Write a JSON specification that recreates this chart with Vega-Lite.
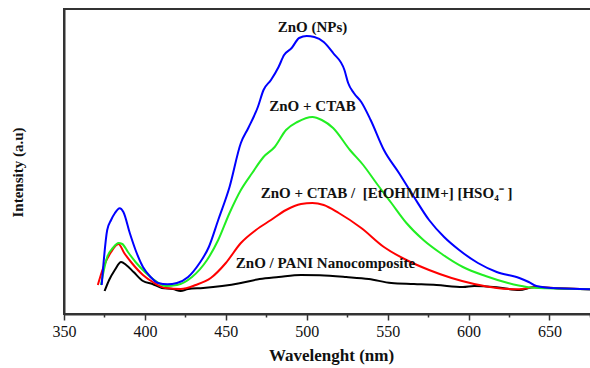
{
  "$schema": "https://vega.github.io/schema/vega-lite/v6.json",
  "width": 534,
  "height": 305,
  "autosize": {"type": "none"},
  "padding": {"left": 64, "top": 9, "right": 0, "bottom": 54},
  "background": "white",
  "config": {
    "view": {"stroke": "#333", "strokeWidth": 2},
    "font": "Liberation Serif"
  },
  "datasets": {
    "curves": [
      {"s": "PANI", "w": 375.1, "i": 23}, {"s": "PANI", "w": 377.9, "i": 34}, {"s": "PANI", "w": 381.4, "i": 44}, {"s": "PANI", "w": 385.3, "i": 52}, {"s": "PANI", "w": 388.4, "i": 49}, {"s": "PANI", "w": 393, "i": 42}, {"s": "PANI", "w": 398.8, "i": 33}, {"s": "PANI", "w": 404.7, "i": 30}, {"s": "PANI", "w": 410.5, "i": 26}, {"s": "PANI", "w": 417.4, "i": 25}, {"s": "PANI", "w": 422.1, "i": 23}, {"s": "PANI", "w": 426.7, "i": 25}, {"s": "PANI", "w": 436, "i": 26}, {"s": "PANI", "w": 447.7, "i": 28}, {"s": "PANI", "w": 459.3, "i": 31}, {"s": "PANI", "w": 470.9, "i": 35}, {"s": "PANI", "w": 482.6, "i": 37}, {"s": "PANI", "w": 496.5, "i": 39}, {"s": "PANI", "w": 508.1, "i": 38.7}, {"s": "PANI", "w": 524.4, "i": 37}, {"s": "PANI", "w": 538.4, "i": 35}, {"s": "PANI", "w": 552.3, "i": 31}, {"s": "PANI", "w": 566.3, "i": 30}, {"s": "PANI", "w": 580.2, "i": 29}, {"s": "PANI", "w": 596.5, "i": 27}, {"s": "PANI", "w": 603.5, "i": 28}, {"s": "PANI", "w": 617.4, "i": 26.7}, {"s": "PANI", "w": 631.4, "i": 24}, {"s": "PANI", "w": 640.7, "i": 27}, {"s": "PANI", "w": 654.7, "i": 25.7}, {"s": "PANI", "w": 680, "i": 24.7},

      {"s": "IL", "w": 370.9, "i": 29}, {"s": "IL", "w": 374.4, "i": 47}, {"s": "IL", "w": 379.1, "i": 62}, {"s": "IL", "w": 383.7, "i": 70}, {"s": "IL", "w": 387.2, "i": 61}, {"s": "IL", "w": 391.9, "i": 51}, {"s": "IL", "w": 398.8, "i": 39}, {"s": "IL", "w": 405.8, "i": 31}, {"s": "IL", "w": 412.8, "i": 26}, {"s": "IL", "w": 422.1, "i": 25}, {"s": "IL", "w": 431.4, "i": 29}, {"s": "IL", "w": 440.7, "i": 36}, {"s": "IL", "w": 450, "i": 51}, {"s": "IL", "w": 459.3, "i": 71}, {"s": "IL", "w": 468.6, "i": 84}, {"s": "IL", "w": 477.9, "i": 94}, {"s": "IL", "w": 487.2, "i": 104}, {"s": "IL", "w": 496.5, "i": 110}, {"s": "IL", "w": 503.5, "i": 111}, {"s": "IL", "w": 510.5, "i": 109}, {"s": "IL", "w": 519.8, "i": 101}, {"s": "IL", "w": 533.7, "i": 86}, {"s": "IL", "w": 547.7, "i": 67}, {"s": "IL", "w": 561.6, "i": 54}, {"s": "IL", "w": 575.6, "i": 44}, {"s": "IL", "w": 589.5, "i": 36}, {"s": "IL", "w": 603.5, "i": 30}, {"s": "IL", "w": 617.4, "i": 26}, {"s": "IL", "w": 631.4, "i": 24.7}, {"s": "IL", "w": 640.7, "i": 26.7}, {"s": "IL", "w": 654.7, "i": 25.7}, {"s": "IL", "w": 680, "i": 24.7},

      {"s": "CTAB", "w": 372.8, "i": 29}, {"s": "CTAB", "w": 376.7, "i": 57}, {"s": "CTAB", "w": 380.2, "i": 66}, {"s": "CTAB", "w": 383.7, "i": 71}, {"s": "CTAB", "w": 386, "i": 70}, {"s": "CTAB", "w": 389.5, "i": 62}, {"s": "CTAB", "w": 394.2, "i": 52}, {"s": "CTAB", "w": 400, "i": 42}, {"s": "CTAB", "w": 405.8, "i": 34}, {"s": "CTAB", "w": 412.8, "i": 28}, {"s": "CTAB", "w": 419.8, "i": 29}, {"s": "CTAB", "w": 429.1, "i": 37}, {"s": "CTAB", "w": 438.4, "i": 54}, {"s": "CTAB", "w": 445.3, "i": 74}, {"s": "CTAB", "w": 452.3, "i": 101}, {"s": "CTAB", "w": 459.3, "i": 124}, {"s": "CTAB", "w": 466.3, "i": 141}, {"s": "CTAB", "w": 473.3, "i": 157}, {"s": "CTAB", "w": 480.2, "i": 167}, {"s": "CTAB", "w": 487.2, "i": 184}, {"s": "CTAB", "w": 494.2, "i": 192}, {"s": "CTAB", "w": 503.5, "i": 197}, {"s": "CTAB", "w": 509.3, "i": 194}, {"s": "CTAB", "w": 516.3, "i": 186}, {"s": "CTAB", "w": 526.7, "i": 164}, {"s": "CTAB", "w": 534.9, "i": 149}, {"s": "CTAB", "w": 543, "i": 131}, {"s": "CTAB", "w": 552.3, "i": 111}, {"s": "CTAB", "w": 561.6, "i": 91}, {"s": "CTAB", "w": 572.1, "i": 74}, {"s": "CTAB", "w": 582.6, "i": 61}, {"s": "CTAB", "w": 596.5, "i": 47}, {"s": "CTAB", "w": 610.5, "i": 38}, {"s": "CTAB", "w": 624.4, "i": 31}, {"s": "CTAB", "w": 636, "i": 27}, {"s": "CTAB", "w": 647.7, "i": 25.7}, {"s": "CTAB", "w": 680, "i": 24.7},

      {"s": "NPs", "w": 373.3, "i": 29}, {"s": "NPs", "w": 376.7, "i": 84}, {"s": "NPs", "w": 379.1, "i": 94}, {"s": "NPs", "w": 381.4, "i": 100.7}, {"s": "NPs", "w": 384.4, "i": 105.7}, {"s": "NPs", "w": 386.7, "i": 102}, {"s": "NPs", "w": 390.7, "i": 80.7}, {"s": "NPs", "w": 394.2, "i": 64}, {"s": "NPs", "w": 398.8, "i": 47}, {"s": "NPs", "w": 403.5, "i": 37}, {"s": "NPs", "w": 408.1, "i": 31}, {"s": "NPs", "w": 414, "i": 29.7}, {"s": "NPs", "w": 419.8, "i": 31}, {"s": "NPs", "w": 426.7, "i": 37}, {"s": "NPs", "w": 433.7, "i": 50.7}, {"s": "NPs", "w": 439.5, "i": 67}, {"s": "NPs", "w": 445.3, "i": 94}, {"s": "NPs", "w": 452.3, "i": 127}, {"s": "NPs", "w": 459.3, "i": 171}, {"s": "NPs", "w": 463.9, "i": 186}, {"s": "NPs", "w": 469.8, "i": 207}, {"s": "NPs", "w": 473.3, "i": 224}, {"s": "NPs", "w": 477.9, "i": 234}, {"s": "NPs", "w": 482.6, "i": 247}, {"s": "NPs", "w": 486, "i": 259}, {"s": "NPs", "w": 490.7, "i": 266}, {"s": "NPs", "w": 495.3, "i": 276}, {"s": "NPs", "w": 500, "i": 278}, {"s": "NPs", "w": 504.7, "i": 277}, {"s": "NPs", "w": 510.5, "i": 272}, {"s": "NPs", "w": 516.3, "i": 261}, {"s": "NPs", "w": 523.3, "i": 244}, {"s": "NPs", "w": 525.6, "i": 231}, {"s": "NPs", "w": 529.1, "i": 221}, {"s": "NPs", "w": 533.7, "i": 212}, {"s": "NPs", "w": 539.5, "i": 194}, {"s": "NPs", "w": 547.7, "i": 164}, {"s": "NPs", "w": 557, "i": 141}, {"s": "NPs", "w": 566.3, "i": 117}, {"s": "NPs", "w": 575.6, "i": 94}, {"s": "NPs", "w": 584.9, "i": 77}, {"s": "NPs", "w": 594.2, "i": 64}, {"s": "NPs", "w": 605.8, "i": 51}, {"s": "NPs", "w": 617.4, "i": 42}, {"s": "NPs", "w": 631.4, "i": 36}, {"s": "NPs", "w": 637.2, "i": 32}, {"s": "NPs", "w": 641.9, "i": 28}, {"s": "NPs", "w": 654.7, "i": 25.7}, {"s": "NPs", "w": 680, "i": 24.7}
    ],
    "labels": [
      {"t": "ZnO (NPs)", "w": 503.6, "i": 287},
      {"t": "ZnO + CTAB", "w": 503.6, "i": 208},
      {"t": "ZnO + CTAB / \u00a0[EtOHMIM+] [HSO₄⁻ ]", "w": 549.3, "i": 121},
      {"t": "ZnO / PANI Nanocomposite", "w": 511.6, "i": 51}
    ]
  },
  "layer": [
    {
      "data": {"name": "curves"},
      "mark": {"type": "line", "strokeWidth": 2, "clip": true, "interpolate": "monotone"},
      "encoding": {
        "x": {
          "field": "w", "type": "quantitative",
          "scale": {"domain": [350, 680], "nice": false},
          "axis": {
            "title": "Wavelenght (nm)",
            "values": [350, 375, 400, 425, 450, 475, 500, 525, 550, 575, 600, 625, 650, 675],
            "labelExpr": "datum.value % 50 === 0 ? datum.label : ''",
            "tickSize": {"condition": {"test": "datum.value % 50 === 0", "value": 6}, "value": 3},
            "tickColor": "#333", "tickWidth": 1.5,
            "domainColor": "#333", "domainWidth": 2,
            "grid": false,
            "labelFont": "Liberation Serif", "labelFontSize": 16, "labelColor": "#111", "labelPadding": 3,
            "labelFlush": false,
            "titleFont": "Liberation Serif", "titleFontSize": 17, "titleFontWeight": "bold", "titleColor": "#111",
            "titlePadding": 8
          }
        },
        "y": {
          "field": "i", "type": "quantitative",
          "scale": {"domain": [0, 305], "nice": false},
          "axis": {
            "title": "Intensity (a.u)",
            "labels": false, "ticks": false, "grid": false,
            "domainColor": "#333", "domainWidth": 2,
            "titleFont": "Liberation Serif", "titleFontSize": 15, "titleFontWeight": "bold", "titleColor": "#111",
            "titleX": -47, "titleY": 163, "titleAngle": -90, "titleAlign": "center", "titleBaseline": "middle"
          }
        },
        "color": {
          "field": "s", "type": "nominal",
          "scale": {"domain": ["PANI", "IL", "CTAB", "NPs"], "range": ["#000000", "#ff0000", "#22ee22", "#0000ff"]},
          "legend": null
        }
      }
    },
    {
      "data": {"name": "labels"},
      "mark": {"type": "text", "font": "Liberation Serif", "fontWeight": "bold", "fontSize": 15, "color": "#111", "align": "center", "baseline": "middle"},
      "encoding": {
        "x": {"field": "w", "type": "quantitative"},
        "y": {"field": "i", "type": "quantitative"},
        "text": {"field": "t"}
      }
    }
  ]
}
